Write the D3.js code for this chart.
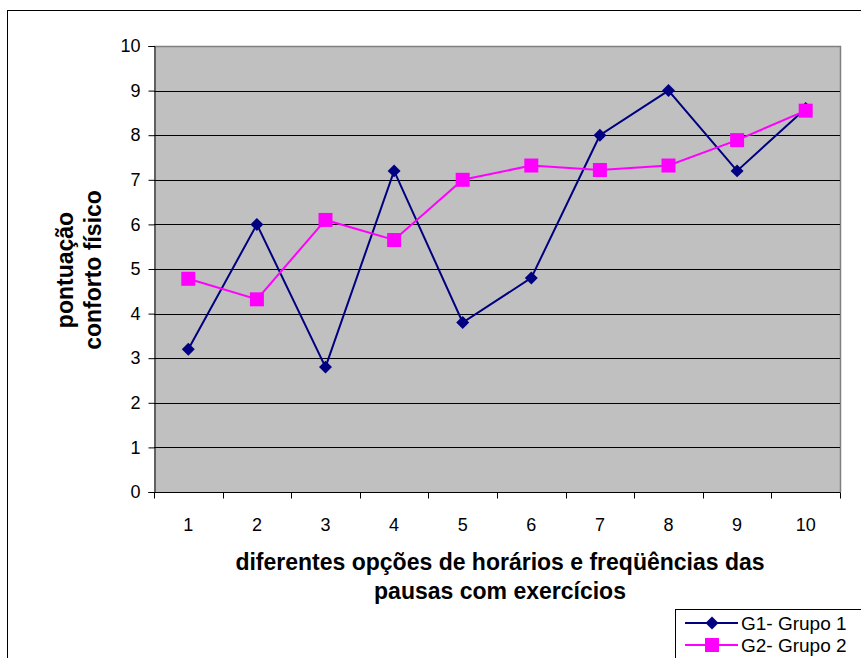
<!DOCTYPE html>
<html>
<head>
<meta charset="utf-8">
<script src="https://cdn.jsdelivr.net/npm/d3@7"></script>
<style>
  html, body { margin: 0; padding: 0; background: #fff; }
  svg { display: block; font-family: "Liberation Sans", Arial, sans-serif; }
</style>
</head>
<body>
<svg id="chart" width="861" height="658"></svg>
<script>
// Categories (options of schedule/frequency) and scores per group
const categories = ["1", "2", "3", "4", "5", "6", "7", "8", "9", "10"];
const grupo1 = [3.2, 6.0, 2.8, 7.2, 3.8, 4.8, 8.0, 9.0, 7.2, 8.6];
const grupo2 = [4.78, 4.32, 6.1, 5.65, 7.0, 7.32, 7.22, 7.32, 7.89, 8.55];
const yTicks = [0, 1, 2, 3, 4, 5, 6, 7, 8, 9, 10];
const seriesNames = ["G1- Grupo 1", "G2- Grupo 2"];

const svg = d3.select("#chart");

// Outer chart border (extends past the right and bottom edges)
svg.append("rect")
  .attr("x", 7.5).attr("y", 10.5)
  .attr("width", 900).attr("height", 700)
  .attr("fill", "#fff").attr("stroke", "#000").attr("stroke-width", 1);

const plot = { left: 154, right: 840, top: 46, bottom: 492 };

const x = d3.scaleBand().domain(categories).range([plot.left, plot.right]).padding(0);
const y = d3.scaleLinear().domain([0, 10]).range([plot.bottom, plot.top]);

// Plot background
svg.append("rect")
  .attr("x", plot.left).attr("y", plot.top)
  .attr("width", plot.right - plot.left).attr("height", plot.bottom - plot.top)
  .attr("fill", "#C0C0C0");

// Plot frame (top and right in gray)
svg.append("path")
  .attr("d", `M${plot.left},${plot.top + 0.5}H${plot.right + 0.5}V${plot.bottom}`)
  .attr("fill", "none").attr("stroke", "#808080").attr("stroke-width", 1.5);

// Horizontal gridlines
svg.append("g")
  .selectAll("line")
  .data(yTicks.filter(t => t > 0 && t < 10))
  .join("line")
  .attr("x1", plot.left).attr("x2", plot.right)
  .attr("y1", d => Math.round(y(d)) + 0.5).attr("y2", d => Math.round(y(d)) + 0.5)
  .attr("stroke", "#000").attr("stroke-width", 1);

// Y axis
const yAxis = svg.append("g")
  .attr("transform", `translate(${plot.left + 0.5},0)`)
  .call(d3.axisLeft(y).tickValues(yTicks).tickSize(6).tickPadding(8).tickFormat(d3.format("d")));
yAxis.select(".domain").attr("stroke", "#000");
yAxis.selectAll(".tick line").attr("stroke", "#000");
yAxis.selectAll("text")
  .attr("font-size", 18).attr("fill", "#000")
  .attr("font-family", "Liberation Sans, Arial, sans-serif");

// X axis: ticks at band boundaries, labels at band centers
const xAxisG = svg.append("g").attr("transform", `translate(0,${plot.bottom + 0.5})`);
xAxisG.append("line")
  .attr("x1", plot.left).attr("x2", plot.right + 0.5)
  .attr("stroke", "#000");
const boundaries = categories.map(c => x(c)).concat([x(categories[categories.length - 1]) + x.bandwidth()]);
xAxisG.selectAll("line.tk")
  .data(boundaries)
  .join("line").attr("class", "tk")
  .attr("x1", d => Math.round(d) + 0.5).attr("x2", d => Math.round(d) + 0.5)
  .attr("y1", 0).attr("y2", 6)
  .attr("stroke", "#000");
xAxisG.selectAll("text")
  .data(categories)
  .join("text")
  .attr("x", d => x(d) + x.bandwidth() / 2)
  .attr("y", 38)
  .attr("text-anchor", "middle")
  .attr("font-size", 18).attr("fill", "#000")
  .text(d => d);

// Series lines and markers
const cx = (d, i) => x(categories[i]) + x.bandwidth() / 2;
const line = d3.line().x(cx).y(d => y(d));

svg.append("path").datum(grupo1)
  .attr("d", line).attr("fill", "none")
  .attr("stroke", "#000080").attr("stroke-width", 2);

svg.append("path").datum(grupo2)
  .attr("d", line).attr("fill", "none")
  .attr("stroke", "#FF00FF").attr("stroke-width", 2);

const diamondPath = d3.symbol().type(d3.symbolSquare).size(84);

svg.append("g").selectAll("path")
  .data(grupo1).join("path")
  .attr("transform", (d, i) => `translate(${cx(d, i)},${y(d)}) rotate(45)`)
  .attr("d", diamondPath)
  .attr("fill", "#000080");

svg.append("g").selectAll("rect")
  .data(grupo2).join("rect")
  .attr("x", (d, i) => cx(d, i) - 7).attr("y", d => y(d) - 7)
  .attr("width", 14).attr("height", 14)
  .attr("fill", "#FF00FF");

// Axis titles
const yTitle = svg.append("text")
  .attr("transform", "translate(73,270) rotate(-90)")
  .attr("text-anchor", "middle")
  .attr("font-size", 23).attr("font-weight", "bold").attr("fill", "#000");
yTitle.append("tspan").attr("x", 0).attr("dy", 0).text("pontuação");
yTitle.append("tspan").attr("x", 0).attr("dy", 28).text("conforto físico");

const xTitle = svg.append("text")
  .attr("text-anchor", "middle")
  .attr("font-size", 23).attr("font-weight", "bold").attr("fill", "#000");
xTitle.append("tspan").attr("x", 500).attr("y", 570).text("diferentes opções de horários e freqüências das");
xTitle.append("tspan").attr("x", 500).attr("y", 599).text("pausas com exercícios");

// Legend (cut off by the bottom-right edge)
const legend = svg.append("g").attr("transform", "translate(675,609)");
legend.append("rect")
  .attr("x", 0.5).attr("y", 0.5).attr("width", 300).attr("height", 100)
  .attr("fill", "#fff").attr("stroke", "#000");

const legendItems = legend.selectAll("g.item")
  .data(seriesNames).join("g").attr("class", "item")
  .attr("transform", (d, i) => `translate(0,${14 + i * 22})`);
legendItems.append("line")
  .attr("x1", 10).attr("x2", 63).attr("y1", 0).attr("y2", 0)
  .attr("stroke", (d, i) => i === 0 ? "#000080" : "#FF00FF").attr("stroke-width", 2);
legendItems.filter((d, i) => i === 0).append("path")
  .attr("transform", "translate(37,0) rotate(45)")
  .attr("d", diamondPath)
  .attr("fill", "#000080");
legendItems.filter((d, i) => i === 1).append("rect")
  .attr("x", 30).attr("y", -7).attr("width", 14).attr("height", 14)
  .attr("fill", "#FF00FF");
legendItems.append("text")
  .attr("x", 66).attr("y", 7)
  .attr("font-size", 19).attr("fill", "#000")
  .text(d => d);
</script>
</body>
</html>
